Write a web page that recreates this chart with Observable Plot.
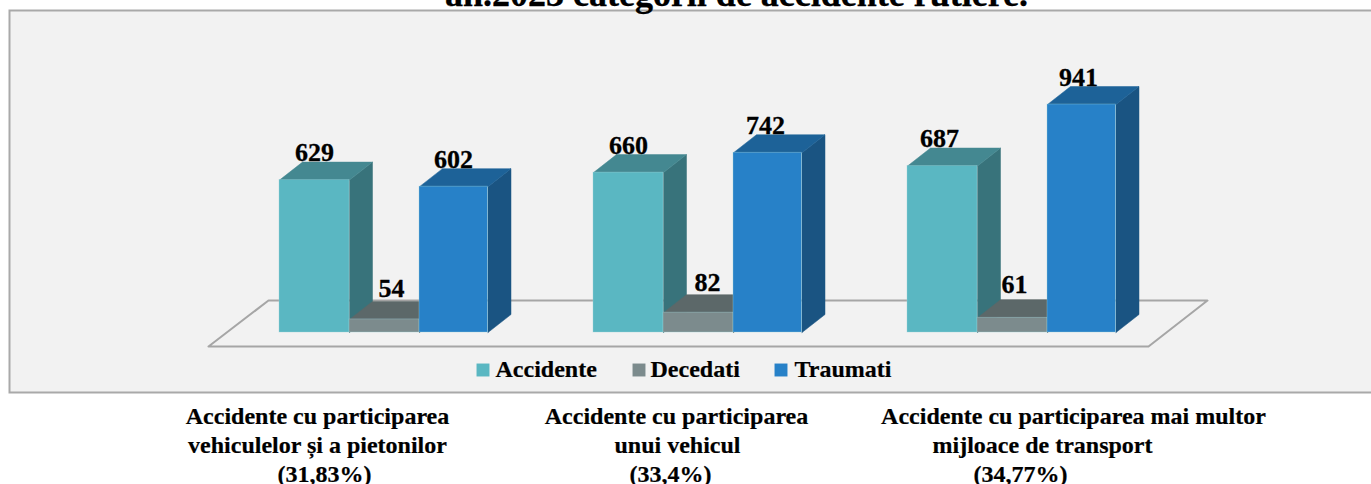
<!DOCTYPE html>
<html>
<head>
<meta charset="utf-8">
<style>
html,body{margin:0;padding:0;background:#fff;overflow:hidden}
svg{display:block}
</style>
<script src="https://cdn.jsdelivr.net/npm/d3@7"></script>
<script src="https://cdn.jsdelivr.net/npm/@observablehq/plot@0.6"></script>
</head>
<body>
<div id="chart"></div>
<script>
const categories = ["Vehicule și pietoni", "Un vehicul", "Mai multe mijloace"];
const seriesNames = ["Accidente", "Decedati", "Traumati"];
const accidente = [629, 660, 687];
const decedati = [54, 82, 61];
const traumati = [602, 742, 941];
const seriesValues = [accidente, decedati, traumati];
const frontColors = ["#5ab7c2", "#7c8b8d", "#2781c8"];
const topColors = ["#448891", "#5c6869", "#1d6298"];
const sideColors = ["#38737b", "#4d5a5c", "#1a5482"];
const labelNudgeX = [[0, 7, -1], [0, 9, -3], [-3, 2, -4]];
const labelNudgeY = [[0, 3, 0], [0, 3, 0], [0, 6, 0]];
const titleText = "an.2023 categorii de accidente rutiere.";
const captionLines = [
  ["Accidente cu participarea", 317, 424], ["vehiculelor și a pietonilor", 317, 453], ["(31,83%)", 324, 482],
  ["Accidente cu participarea", 676, 424], ["unui vehicul", 677, 453], ["(33,4%)", 670, 482],
  ["Accidente cu participarea mai multor", 1073, 424], ["mijloace de transport", 1042, 453], ["(34,77%)", 1020, 482]
];
const legendPlaces = [[482.5, 369.5, 495], [638.5, 369.5, 650], [780.5, 369.5, 794]];

// geometry in data units: x in bar widths, y in counts
const W = 1371, H = 484, barPx = 70, baselinePx = 332, unitsPerPx = 941 / 228;
const groupGap = 314 / barPx, depthX = 23 / barPx, depthY = 18 * unitsPerPx;
const seriesWidths = [1, 1, 68.5 / barPx];
const floorFront = -14 * unitsPerPx, floorBack = 32 * unitsPerPx;
const floorPoints = [
  {x: -71 / barPx, y: floorFront}, {x: 869 / barPx, y: floorFront},
  {x: 928 / barPx, y: floorBack}, {x: -11 / barPx, y: floorBack}, {x: -71 / barPx, y: floorFront}
];

const marks = [
  Plot.frame({fill: "#f2f2f2", stroke: "#a9a9a9", strokeWidth: 2, insetLeft: 9, insetTop: 10, insetBottom: 92, insetRight: -6}),
  Plot.line(floorPoints, {x: "x", y: "y", stroke: "#a6a6a6", strokeWidth: 2, fill: "#f2f2f2"})
];
const labels = [];
categories.forEach((cat, g) => {
  seriesNames.forEach((name, s) => {
    const v = seriesValues[s][g];
    const x0 = g * groupGap + s, x1 = x0 + seriesWidths[s];
    marks.push(Plot.line([
      {x: x1, y: 0}, {x: x1 + depthX, y: depthY}, {x: x1 + depthX, y: v + depthY}, {x: x1, y: v}, {x: x1, y: 0}
    ], {x: "x", y: "y", fill: sideColors[s], stroke: sideColors[s], strokeWidth: 0.5}));
    marks.push(Plot.line([
      {x: x0, y: v}, {x: x1, y: v}, {x: x1 + depthX, y: v + depthY}, {x: x0 + depthX, y: v + depthY}, {x: x0, y: v}
    ], {x: "x", y: "y", fill: topColors[s], stroke: topColors[s], strokeWidth: 0.5}));
    marks.push(Plot.rect([{cat, name, x0, x1, v}], {
      x1: "x0", x2: "x1", y1: 0, y2: "v", fill: frontColors[s], stroke: "#9fd3da", strokeWidth: 0.6, strokeOpacity: 0.6
    }));
    labels.push({
      x: x0 + 0.5 + labelNudgeX[g][s] / barPx,
      y: v + depthY + labelNudgeY[g][s] * unitsPerPx,
      v
    });
  });
});
marks.push(Plot.text(labels, {
  x: "x", y: "y", text: "v", lineAnchor: "bottom", fontFamily: "Liberation Serif",
  fontWeight: "bold", fontSize: 26, fill: "#000", dy: -1, stroke: "#000", strokeWidth: 0.3
}));
seriesNames.forEach((name, i) => {
  const [sx, sy, tx] = legendPlaces[i];
  marks.push(Plot.dot([name], {frameAnchor: "top-left", dx: sx, dy: sy, r: 7.3, symbol: "square", fill: frontColors[i], stroke: "none"}));
  marks.push(Plot.text([name], {frameAnchor: "top-left", dx: tx, dy: sy - 1, text: d => d, textAnchor: "start", lineAnchor: "middle",
    fontFamily: "Liberation Serif", fontWeight: "bold", fontSize: 24, fill: "#000", stroke: "#000", strokeWidth: 0.2}));
});
captionLines.forEach(([t, cx, by]) => {
  marks.push(Plot.text([t], {frameAnchor: "top-left", dx: cx, dy: by - 8, text: d => d, textAnchor: "middle", lineAnchor: "middle",
    fontFamily: "Liberation Serif", fontWeight: "bold", fontSize: 24, fill: "#000", stroke: "#000", strokeWidth: 0.2}));
});
marks.push(Plot.text([titleText], {frameAnchor: "top-left", dx: 736, dy: -6, text: d => d, textAnchor: "middle", lineAnchor: "middle",
  fontFamily: "Liberation Serif", fontWeight: "bold", fontSize: 36, fill: "#000", stroke: "#000", strokeWidth: 0.3}));

const plot = Plot.plot({
  width: W, height: H, margin: 0,
  style: {background: "transparent", overflow: "hidden"},
  x: {axis: null, domain: [-279 / barPx, (W - 279) / barPx], range: [0, W]},
  y: {axis: null, domain: [(baselinePx - H) * unitsPerPx, baselinePx * unitsPerPx], range: [H, 0]},
  marks
});
document.getElementById("chart").appendChild(plot);
</script>
</body>
</html>
